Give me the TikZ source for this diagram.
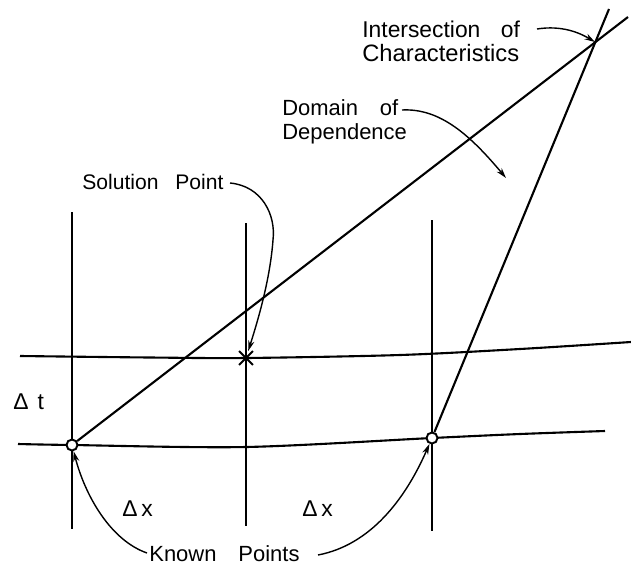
\documentclass[tikz,border=0pt]{standalone}
\usepackage{fontspec}
\setmainfont{Liberation Sans}
\usetikzlibrary{arrows.meta,shapes.misc}
\begin{document}
\begin{tikzpicture}[x=0.02cm,y=-0.02cm,
  gridline/.style={line width=1.2pt},
  leader/.style={line width=0.8pt,-{Stealth[length=6pt,width=3.5pt]}},
  lbl/.style={inner sep=0pt,anchor=base west},
  knownpt/.style={circle,draw,fill=white,line width=1.1pt,minimum size=0.22cm,inner sep=0pt},
  solpt/.style={cross out,draw,line width=1.1pt,minimum size=0.24cm,inner sep=0pt}]
\fill[white] (0,0) rectangle (631,568);
\useasboundingbox (0,0) rectangle (631,568);
% grid
\draw[gridline] (72,212) -- (72,529);
\draw[gridline] (246,223) -- (246,526);
\draw[gridline] (432,220) -- (432,531);
\draw[gridline] plot[smooth] coordinates {(20,356) (150,357.5) (246,358) (400,355) (520,349) (631,342)};
\draw[gridline] plot[smooth] coordinates {(18,444) (72,445) (246,447) (432,438) (520,434) (605,431)};
% points
\node[knownpt] (kA) at (72,445) {};
\node[knownpt] (kB) at (432,438) {};
\node[solpt] (S) at (246,358) {};
\coordinate (I) at (595,42);
\coordinate (e1) at (628,17);
\coordinate (e2) at (609,9);
% characteristics
\draw[gridline] (kA) -- (e1);
\draw[gridline] (kB) -- (e2);
% labels
\node[lbl,font=\fontsize{13}{15}\selectfont] (int1) at (362,37) {Intersection\hspace{0.9em}of};
\node[lbl,font=\fontsize{13.5}{15}\selectfont] (int2) at (362,61) {Characteristics};
\node[lbl,font=\fontsize{12.5}{15}\selectfont] (dom1) at (282,115) {Domain\hspace{1em}of};
\node[lbl,font=\fontsize{12.5}{15}\selectfont] (dom2) at (282,139) {Dependence};
\node[lbl,font=\fontsize{12}{14}\selectfont] (sol) at (82,189) {Solution\hspace{0.8em}Point};
\node[lbl,font=\fontsize{12.5}{15}\selectfont] (kn) at (149,561) {Known\hspace{1em}Points};
\node[lbl,font=\fontsize{13}{15}\selectfont] (dt) at (13,409) {Δ\hspace{0.4em}t};
\node[lbl,font=\fontsize{13}{15}\selectfont] (dx1) at (122,516) {Δ\,x};
\node[lbl,font=\fontsize{13}{15}\selectfont] (dx2) at (302,516) {Δ\,x};
% leaders
\coordinate (lI) at (537,29);
\coordinate (lD) at (402,110);
\coordinate (dEnd) at (506,178);
\coordinate (lS) at (230,183);
\coordinate (lK1) at (147,553);
\coordinate (lK2) at (318,555);
\draw[leader] (lI) .. controls (562,25) and (580,33) .. (I);
\draw[leader] (lD) .. controls (440,108) and (470,135) .. (dEnd);
\draw[line width=0.8pt] (lS) .. controls (262,186) and (276,215) .. (273,240) coordinate (sm);
\draw[leader] (sm) .. controls (270,280) and (258,320) .. (S);
\draw[leader] (lK1) .. controls (110,540) and (85,495) .. (kA);
\draw[leader] (lK2) .. controls (370,545) and (405,500) .. (kB);
\end{tikzpicture}
\end{document}
